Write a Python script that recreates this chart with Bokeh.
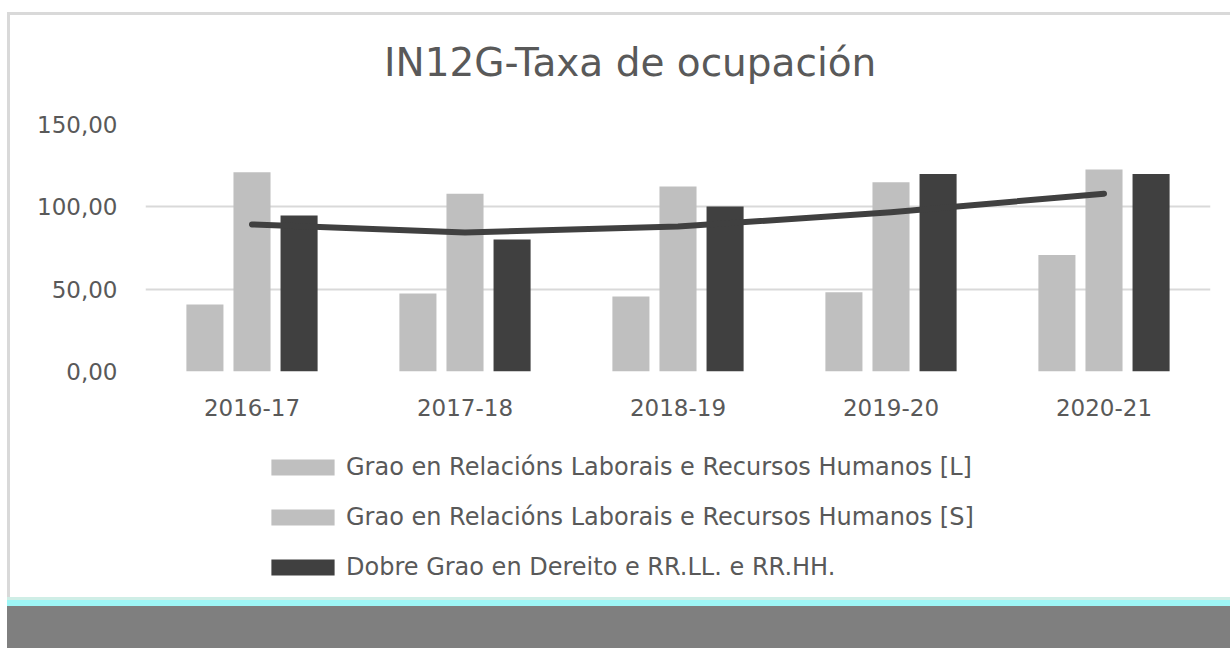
from bokeh.plotting import figure
from bokeh.models import (FactorRange, Range1d, Legend, LegendItem, CustomJSTickFormatter,
                          FixedTicker, Div, Spacer, ColumnDataSource)
from bokeh.transform import dodge
from bokeh.layouts import column, row
from bokeh.embed import file_html
from bokeh.resources import INLINE

title_text = "IN12G-Taxa de ocupación"
years = ["2016-17", "2017-18", "2018-19", "2019-20", "2020-21"]
grao_l = [40.7, 47.4, 45.5, 48.2, 70.8]
grao_s = [121.0, 108.0, 112.3, 115.0, 122.6]
dobre = [94.7, 80.1, 100.2, 120.0, 120.0]
trend = [89.3, 84.4, 88.0, 96.7, 108.0]
y_ticks = [0, 50, 100, 150]

series_names = [
    "Grao en Relacións Laborais e Recursos Humanos [L]",
    "Grao en Relacións Laborais e Recursos Humanos [S]",
    "Dobre Grao en Dereito e RR.LL. e RR.HH.",
]

FONT = "DejaVu Sans"
TXT = "#595959"
LIGHT = "#bfbfbf"
DARK = "#404040"
BORDER = "#d9d9d9"

src = ColumnDataSource(dict(years=years, l=grao_l, s=grao_s, d=dobre))

W = 1223
H_TITLE = 70
H_MAIN = 348
H_LEG = 167
bw = 0.174
offs = [-0.221, 0.0, 0.221]
cols = ["l", "s", "d"]
fills = [LIGHT, LIGHT, DARK]

# ---- title ----
title = Div(width=W, height=H_TITLE, margin=0,
            text=(f'<div style="padding:28px 0 0 377px;font-family:\'{FONT}\';font-size:39px;'
                  f'line-height:normal;color:{TXT};white-space:nowrap">{title_text}</div>'),
            styles={"box-shadow": f"inset 3px 3px 0 {BORDER}"})

# ---- main chart ----
p = figure(x_range=FactorRange(*years, range_padding=0), y_range=Range1d(0, 150),
           width=W, height=H_MAIN, output_backend="svg", toolbar_location=None,
           min_border_left=138, min_border_right=20, min_border_top=42, min_border_bottom=59)
p.border_fill_color = None
p.background_fill_color = None
p.outline_line_color = None
p.styles = {"box-shadow": f"inset 3px 0 0 {BORDER}"}

for o, c, f in zip(offs, cols, fills):
    p.vbar(x=dodge("years", o, range=p.x_range), top=c, width=bw, source=src,
           fill_color=f, line_color=None)
p.line(x=years, y=trend, line_color=DARK, line_width=6, line_cap="round", line_join="round")

p.xgrid.grid_line_color = None
p.ygrid.grid_line_color = BORDER
p.ygrid.grid_line_width = 2
p.yaxis.ticker = FixedTicker(ticks=y_ticks)
p.yaxis.formatter = CustomJSTickFormatter(code="return tick.toFixed(2).replace('.', ',');")

for ax in (p.xaxis[0], p.yaxis[0]):
    ax.axis_line_color = None
    ax.major_tick_line_color = None
    ax.minor_tick_line_color = None
    ax.major_label_text_font = FONT
    ax.major_label_text_font_size = "23px"
    ax.major_label_text_color = TXT
p.yaxis.major_label_standoff = 22
p.xaxis.major_label_standoff = 21

# ---- legend area (same series, range set so only the legend shows) ----
q = figure(x_range=p.x_range, y_range=Range1d(1000, 1001),
           width=W, height=H_LEG, output_backend="svg", toolbar_location=None,
           min_border=0, x_axis_type=None, y_axis_type=None)
q.border_fill_color = None
q.background_fill_color = None
q.outline_line_color = None
q.grid.grid_line_color = None
q.styles = {"box-shadow": f"inset 3px 0 0 {BORDER}"}

rs = []
for o, c, f in zip(offs, cols, fills):
    rs.append(q.vbar(x=dodge("years", o, range=q.x_range), top=c, width=bw, source=src,
                     fill_color=f, line_color=None))

legend = Legend(items=[LegendItem(label=n, renderers=[r]) for n, r in zip(series_names, rs)],
                location=(256, 16), orientation="vertical",
                glyph_width=79, glyph_height=20, label_height=28, spacing=22,
                label_text_font=FONT, label_text_font_size="24px", label_text_color=TXT,
                label_standoff=4, padding=10, border_line_color=None,
                background_fill_alpha=0)
q.add_layout(legend, "center")

band = Div(width=W, height=51, margin=0, styles={
    "background": "linear-gradient(#cfeee6 0px, #cfeee6 3px, #9ef6f6 3px, #9ef6f6 9px, #7f7f7f 9px)"})

layout = column(Spacer(width=W, height=12),
                row(Spacer(width=7, height=H_TITLE), title, spacing=0),
                row(Spacer(width=7, height=H_MAIN), p, spacing=0),
                row(Spacer(width=7, height=H_LEG), q, spacing=0),
                row(Spacer(width=7, height=51), band, spacing=0),
                spacing=0)

open("out.html", "w").write(file_html(layout, INLINE))
